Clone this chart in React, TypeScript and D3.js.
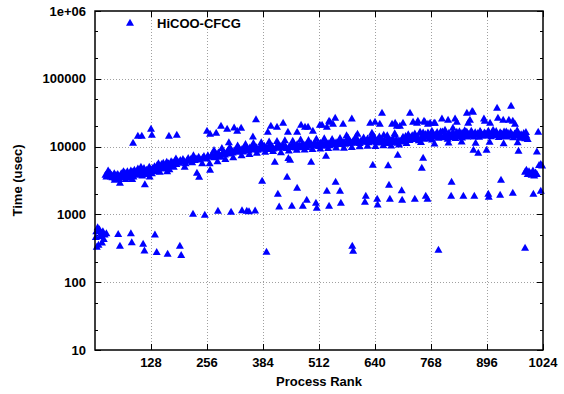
import React from "react";
import * as d3 from "d3";

// ---- data: [process rank, time in usec] ----
const mainBand: [number, number][] = [
  [24,3800],[26,3600],[28,4000],[30,3700],[32,3900],[34,4100],[36,3600],[38,3800],[40,3500],[42,3700],[44,4000],[46,3400],[48,3800],[50,3600],[52,3900],[55,3300],[58,3700],[60,4000],[62,3500],[64,3800],[66,3600],[68,4100],[70,3300],[72,3900],[74,4300],[76,3700],[78,3500],[80,4000],[82,4400],[84,3800],[86,4200],[88,3600],[90,4500],[92,4000],[94,3800],[96,4300],[98,4700],[100,3900],[102,4200],[104,4600],[106,4000],[108,3700],[110,4400],[112,4800],[116,4100],[118,4500],[120,3900],[122,4300],[124,5000],
  [126,4200],[128,4600],[130,4000],[132,4800],[134,4400],[136,5100],[138,4300],[140,4700],[142,5300],[144,4500],[146,4900],[148,4200],[150,5000],[152,5500],[154,4700],[156,5700],[158,5200],[160,4800],[162,5400],[164,5900],[166,5000],[168,5600],[170,4600],[172,5200],[174,6000],[176,5400],[178,5800],[180,5000],[183,6200],[186,5500],[189,6000],[192,5700],[195,6300],[198,5900],[201,6500],[204,6000],[207,5600],[210,6200],[213,6700],[216,6100],[219,6500],[222,5800],[225,6900],[228,6300],[231,6600],[237,7000],[240,6400],[246,6800],[249,7200],[255,6600],[258,7400],[264,7000],
  [267,7600],[270,7200],[273,6900],[276,7800],[279,7300],[282,8100],[285,7500],[288,7000],[291,7900],[294,8300],[297,7600],[300,8000],[303,8600],[306,7800],[309,8400],[312,8800],[315,8100],[318,8500],[321,9000],[324,8300],[327,8800],[330,9300],[333,8600],[336,9100],[339,8400],[342,9500],[345,8900],[348,9200],[351,8700],[354,9600],[357,9000],[360,9400],[363,10000],[366,9100],[369,9700],[372,8900],[375,9300],[378,9900],[381,9200],[384,9600],[387,10200],[390,9400],[393,9800],[396,9100],[399,10300],[402,9600],[405,10000],[408,9300],[414,9800],[417,10400],[420,9500],[423,10100],[426,9700],[429,10500],[432,9900],[435,10200],[438,9400],[444,10000],[450,10600],[453,9800],[456,10300],[459,9600],[462,10800],[465,10000],[468,10400],[471,9700],[474,10900],[477,10100],[480,10500],[483,9800],[486,10700],[489,10200],[494,11000],
  [497,10300],[500,10800],[503,11200],[506,10400],[509,10900],[512,10100],[515,11300],[518,10600],[521,11000],[524,10200],[527,11400],[530,10800],[533,11100],[536,10400],[539,11600],[542,10900],[545,11300],[548,10600],[551,11500],[554,11000],[557,11800],[560,10800],[563,11400],[566,11100],[569,11700],[572,10900],[575,11500],[578,12000],[581,11200],[584,11800],[587,11300],[590,12100],[593,11400],[596,12300],[599,11600],[602,11900],[605,11200],[608,12200],[611,11700],[614,12500],[617,11800],[620,12100],[623,13000],[626,11500],[629,12400],[632,12700],[635,11900],[638,14000],[641,12300],[644,11600],[647,12800],[650,12000],[653,11400],[656,12600],[659,11900],[662,12300],[665,11200],[668,12700],[671,11800],[674,12400],[677,11500],[680,12900],[683,12100],[686,11700],[689,12500],[692,11300],[695,12200],[698,11800],
  [701,12600],[704,13800],[707,12000],[710,14200],[713,13000],[716,15000],[719,12400],[722,13600],[725,14600],[728,12800],[731,15400],[734,13300],[737,14000],[740,12300],[743,15800],[746,13500],[749,14400],[752,12900],[755,15200],[758,13900],[761,16000],[764,13200],[767,14700],[770,12600],[773,15500],[776,13800],[779,14900],[782,16300],[785,13400],[788,15100],[791,14000],[794,16500],[797,13600],[800,15300],[803,14300],[806,12900],[809,15900],[812,14500],[815,13700],[818,16200],[821,14800],[824,13300],[827,15600],[830,14100],[833,16700],[836,15000],[839,13500],[842,15800],[845,14400],[848,16400],[851,13900],[854,15200],[857,14600],[860,16900],[863,15400],[866,14000],[869,16100],[872,14800],[875,15700],[878,13800],[881,16600],[884,15100],[887,14300],[890,16000],[893,15500],[896,14700],[899,17000],[902,15300],[905,14100],[908,16300],[911,15600],[914,14500],[917,16800],[920,15000],[923,13700],[926,16100],[929,15400],[932,14200],[935,16500],[938,15200],[941,13900],[944,15800],[947,14600],[950,16200],[953,15000],[956,13600],[959,15500],[962,14300],[965,16000],[968,14800],[971,13400],[974,15100],[977,14000],[980,15700],[983,13100],[986,14400],[989,12800],
  [712,11200],[745,11600],[776,11000],[808,11400],[838,11800],[870,11300],[902,11700],[934,11100],[966,11500],
];

const bandSpread: [number, number][] = [
  [30,4400],[45,3200],[65,4300],[85,3300],[105,5000],[125,3600],[145,5600],[165,4300],[185,6600],[205,5000],[225,7400],[245,5600],
  [262,5600],[272,8800],[280,6000],[290,9400],[298,6500],[308,9800],[316,6900],[326,10300],[335,7400],[344,10800],[353,7700],[362,11200],[370,8000],[380,11500],[389,8300],[398,11800],[407,8500],[416,12000],[425,8200],[434,12300],[443,8700],[452,12100],[461,8900],[470,12600],[479,9000],[488,12400],[497,9100],[506,12900],[515,9300],[524,13100],[533,9400],[542,12800],[551,9600],[560,13300],[569,9500],[578,13600],[587,9800],[596,13900],[605,10000],[614,13500],[623,10200],[632,14200],[641,10100],[650,14000],[659,10400],[668,14500],[677,10300],[686,14800],[695,10600],
];

const midScatter: [number, number][] = [
  [57,2900],[114,2750],[233,4080],[238,3560],[263,4500],[411,5930],[442,6700],[446,6340],[494,5900],
  [528,7260],[635,5350],[670,5250],[692,7520],[750,6790],[747,4830],
  [865,8910],[876,8050],[895,8910],[968,8600],[1010,8400],
  [983,4200],[986,4500],[989,3900],[992,4300],[995,4000],[998,3800],[1001,4400],[1004,3700],[1007,4100],[1010,3900],
  [1015,5300],[1019,5500],[1022,5200],
];

const upperScatter: [number, number][] = [
  [87,11300],[98,14300],[107,14300],[128,18200],[130,14800],[169,14300],[187,14800],
  [256,17000],[263,15300],[277,15900],[288,20100],[302,18200],[306,11500],[318,19000],[325,17000],[334,18800],
  [361,13900],[368,25000],[395,16400],[402,20100],[416,19500],[430,22300],[441,16400],[462,16400],[471,20800],[480,19500],[487,19500],[498,17000],[514,20800],
  [519,20800],[530,19500],[535,23900],[537,23100],[544,21500],[549,26400],[567,21500],[587,25600],[629,22300],[633,15900],[636,14300],[640,23100],[651,21500],[656,31300],[679,21500],[690,20100],
  [575,14500],[600,15300],[660,14800],[685,15600],
  [686,22300],[697,20100],[704,22300],[720,31300],[727,23100],[736,22300],[738,23900],[752,23900],[754,23100],[761,21500],[766,22300],[775,22300],[777,22300],[793,25600],[807,24700],[823,25600],[827,23100],
  [850,31300],[853,22300],[857,24700],[862,33300],[864,32300],[889,25600],[891,23900],[903,22300],[919,37100],[921,26400],[933,24700],[946,24700],[951,39700],[955,23900],[960,21500],
  [736,13900],[743,16400],[818,18800],[827,16400],[839,15900],[850,16400],[862,15900],[1013,16400],
  [750,16000],[770,17000],[790,16500],[800,17500],[845,17200],[880,16800],[910,17500],[940,16600],[965,17300],[985,16200],
];

const lowerScatter: [number, number][] = [
  [224,1010],[251,980],[281,1120],[311,1080],[336,1140],[347,1120],[352,1100],[366,1130],
  [382,3110],[439,3560],[462,2450],[418,2000],[421,1290],[450,1330],[475,1330],[484,1630],[505,1470],[507,1240],
  [530,2210],[535,1330],[550,3010],[560,2210],[562,1470],
  [619,1870],[617,1520],[645,1690],[646,1380],[672,2720],[674,1690],
  [701,2250],[702,1630],[731,1690],[756,1870],[760,1690],[815,3010],[814,1870],[842,1870],[867,1870],
  [899,2000],[900,1810],[926,1930],[928,3220],[955,2070],[1002,2000],[1019,2210],
];

const lowScatter: [number, number][] = [
  [3,560],[6,640],[10,600],[14,530],[18,560],[22,500],[26,520],[2,460],[12,470],[20,430],[8,354],[4,330],[16,380],
  [53,510],[82,520],[137,500],[57,342],[84,385],[110,365],[113,290],[141,275],[166,261],[194,342],[197,250],
  [392,279],[588,340],[590,288],[785,298],[983,319],
];

const xTicks = [128, 256, 384, 512, 640, 768, 896, 1024];
const yTicks = [10, 100, 1000, 10000, 100000, 1000000];
const yTickLabels = ["10", "100", "1000", "10000", "100000", "1e+06"];
const seriesName = "HiCOO-CFCG";

const W = 564, H = 394;
const L = 95, R = 543, T = 11, B = 350;
const FONT = "'Liberation Sans', Arial, Helvetica, sans-serif";
const BLUE = "#0000ff";

function tri(cx: number, cy: number) {
  return `M${cx},${cy - 4.3}L${cx + 4},${cy + 2.7}L${cx - 4},${cy + 2.7}Z`;
}

export default function App() {
  const x = d3.scaleLinear().domain([0, 1024]).range([L, R]);
  const y = d3.scaleLog().domain([10, 1e6]).range([B, T]);
  const all = [...mainBand, ...bandSpread, ...midScatter, ...upperScatter, ...lowerScatter, ...lowScatter];
  const minor: number[] = [];
  for (let e = 1; e < 6; e++) {
    minor.push(2 * Math.pow(10, e), 5 * Math.pow(10, e));
  }
  return (
    <svg width={W} height={H} style={{ position: "absolute", left: 0, top: 0, background: "#fff" }}
      fontFamily={FONT} fontWeight="bold" fontSize={13}>
      <rect x={0} y={0} width={W} height={H} fill="#fff" />
      {/* grid */}
      <g stroke="#a0a0a0" strokeWidth={1} strokeDasharray="1,2">
        {yTicks.slice(1, -1).map((t) => (
          <line key={"gy" + t} x1={L} x2={R} y1={Math.round(y(t)) + 0.5} y2={Math.round(y(t)) + 0.5} />
        ))}
        {xTicks.slice(0, -1).map((t) => (
          <line key={"gx" + t} y1={T} y2={B} x1={Math.round(x(t)) + 0.5} x2={Math.round(x(t)) + 0.5} />
        ))}
      </g>
      {/* ticks */}
      <g stroke="#000" strokeWidth={1}>
        {yTicks.map((t) => {
          const yy = Math.round(y(t)) + 0.5;
          return (
            <g key={"ty" + t}>
              <line x1={L} x2={L + 6} y1={yy} y2={yy} />
              <line x1={R} x2={R - 6} y1={yy} y2={yy} />
            </g>
          );
        })}
        {minor.map((t) => {
          const yy = Math.round(y(t)) + 0.5;
          return (
            <g key={"my" + t}>
              <line x1={L} x2={L + 3} y1={yy} y2={yy} />
              <line x1={R} x2={R - 3} y1={yy} y2={yy} />
            </g>
          );
        })}
        {xTicks.map((t) => {
          const xx = Math.round(x(t)) + 0.5;
          return (
            <g key={"tx" + t}>
              <line x1={xx} x2={xx} y1={B} y2={B - 6} />
              <line x1={xx} x2={xx} y1={T} y2={T + 6} />
            </g>
          );
        })}
      </g>
      {/* points */}
      <g fill={BLUE}>
        {all.map(([r, v], i) => (
          <path key={i} d={tri(x(r), y(v))} />
        ))}
      </g>
      {/* border */}
      <rect x={L} y={T} width={R - L} height={B - T} fill="none" stroke="#000" strokeWidth={1.5} />
      {/* y labels */}
      {yTicks.map((t, i) => (
        <text key={"ly" + t} x={86} y={y(t)} dy="0.36em" textAnchor="end" fill="#000">
          {yTickLabels[i]}
        </text>
      ))}
      {xTicks.map((t) => (
        <text key={"lx" + t} x={x(t)} y={367} textAnchor="middle" fill="#000">
          {t}
        </text>
      ))}
      <text x={(L + R) / 2} y={386} textAnchor="middle" fill="#000">Process Rank</text>
      <text transform={`translate(22,${(T + B) / 2}) rotate(-90)`} textAnchor="middle" fill="#000">
        Time (usec)
      </text>
      {/* legend */}
      <path d={tri(130, 23)} fill={BLUE} />
      <text x={157} y={27.5} fill="#000">{seriesName}</text>
    </svg>
  );
}
